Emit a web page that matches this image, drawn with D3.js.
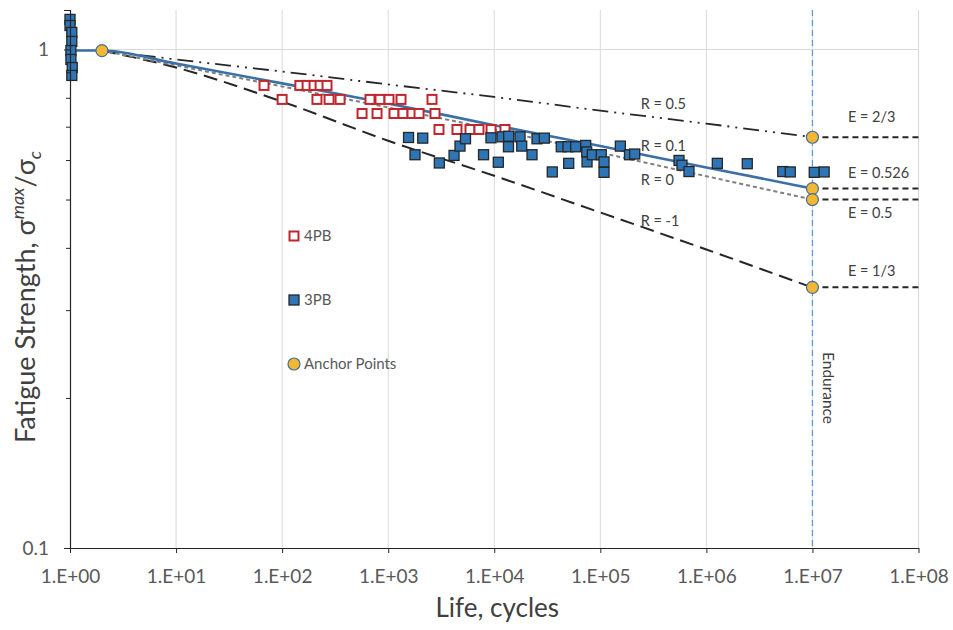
<!DOCTYPE html>
<html>
<head>
<meta charset="utf-8">
<script src="https://cdn.jsdelivr.net/npm/d3@7"></script>
<style>
  body { margin: 0; background: #fff; }
  text { font-family: Lato, "Open Sans", sans-serif; }
</style>
</head>
<body>
<script>
// axis ticks
const decades = [1, 1e1, 1e2, 1e3, 1e4, 1e5, 1e6, 1e7, 1e8]
const xTickLabels = ['1.E+00', '1.E+01', '1.E+02', '1.E+03', '1.E+04', '1.E+05', '1.E+06', '1.E+07', '1.E+08']
const yMajorTicks = [0.1, 1]
const yMajorLabels = ['0.1', '1']
const yMinorTicks = [0.2, 0.3, 0.4, 0.5, 0.6, 0.7, 0.8, 0.9]

// S-N curves (life, strength)
const curveLife = [2, 1e1, 1e2, 1e3, 1e4, 1e5, 1e6, 1e7]
const rHalf = [0.995, 0.955, 0.903, 0.851, 0.803, 0.754, 0.710, 0.667]
const rTenth = [0.995, 0.937, 0.855, 0.779, 0.705, 0.640, 0.580, 0.526]
const rZero = [0.995, 0.929, 0.843, 0.765, 0.691, 0.621, 0.557, 0.5]
const rMinusOne = [0.995, 0.920, 0.786, 0.656, 0.558, 0.471, 0.397, 0.333]

// endurance limits at 1e7 cycles
const enduranceLife = 1e7
const enduranceE = [2 / 3, 0.526, 0.5, 1 / 3]
const enduranceLabels = ['E = 2/3', 'E = 0.526', 'E = 0.5', 'E = 1/3']

// anchor points
const anchorLife = [2, 1e7, 1e7, 1e7, 1e7]
const anchorS = [0.995, 2 / 3, 0.526, 0.5, 1 / 3]

// 4PB test data
const life4PB = [67.5, 100, 147, 172, 200, 228, 265,
  213, 277, 352, 674, 837, 1018, 1321, 2590,
  567, 785, 1135, 1380, 1678, 1954, 2763,
  3013, 4453, 5906, 7181, 9330, 12620]
const s4PB = [0.847, 0.794, 0.847, 0.847, 0.847, 0.847, 0.847,
  0.794, 0.794, 0.794, 0.794, 0.794, 0.794, 0.794, 0.794,
  0.744, 0.744, 0.744, 0.744, 0.744, 0.744, 0.744,
  0.691, 0.691, 0.691, 0.691, 0.691, 0.691]

// 3PB test data
const life3PB = [1, 1, 1.04, 1.04, 1.02, 1.02, 1.05, 1.04,
  1556, 2117, 1790, 3034, 4178, 4754, 5357, 7925, 9311, 10920,
  11840, 13680, 13620, 17500, 18150, 22700, 25300, 29650, 35240, 42860,
  49550, 50350, 58620, 72830, 74450, 74970, 84140, 102100, 108400, 108400,
  154500, 188400, 211000, 552200, 589000, 685500, 1.268e6, 2.43e6, 5.25e6, 6.18e6,
  1.04e7, 1.29e7]
const s3PB = [1.149, 1.117, 1.082, 1.038, 0.995, 0.955, 0.920, 0.887,
  0.666, 0.664, 0.615, 0.592, 0.613, 0.640, 0.662, 0.615, 0.665, 0.594,
  0.668, 0.670, 0.638, 0.668, 0.640, 0.615, 0.662, 0.664, 0.568, 0.638,
  0.638, 0.591, 0.638, 0.642, 0.623, 0.595, 0.615, 0.615, 0.595, 0.567,
  0.640, 0.615, 0.617, 0.599, 0.586, 0.569, 0.591, 0.590, 0.569, 0.568,
  0.567, 0.568]

const plot = {left: 70, right: 918.5, top: 10, bottom: 548}

const svg = d3.select('body').append('svg')
  .attr('width', 953)
  .attr('height', 630)

const xScale = d3.scaleLog().domain([1, 1e8]).range([plot.left, plot.right])
const yScale = d3.scaleLog().domain([0.1, 1.2]).range([plot.bottom, plot.top])

// gridlines
svg.append('g').selectAll('line').data(decades.slice(1)).enter()
  .append('line')
    .attr('x1', d => xScale(d)).attr('x2', d => xScale(d))
    .attr('y1', plot.top).attr('y2', plot.bottom)
    .attr('stroke', '#d9d9d9').attr('stroke-width', 1)
svg.append('line')
  .attr('x1', plot.left).attr('x2', plot.right)
  .attr('y1', yScale(1)).attr('y2', yScale(1))
  .attr('stroke', '#d9d9d9').attr('stroke-width', 1)

// endurance line
svg.append('line')
  .attr('x1', xScale(enduranceLife)).attr('x2', xScale(enduranceLife))
  .attr('y1', plot.top).attr('y2', plot.bottom)
  .attr('stroke', '#5b9bd5').attr('stroke-width', 1.3)
  .attr('stroke-dasharray', '6,4')

// endurance limit dashes
svg.append('g').selectAll('line').data(enduranceE).enter()
  .append('line')
    .attr('x1', xScale(enduranceLife)).attr('x2', xScale(1e8))
    .attr('y1', d => yScale(d)).attr('y2', d => yScale(d))
    .attr('stroke', '#262626').attr('stroke-width', 2)
    .attr('stroke-dasharray', '6,4')

// S-N curves
const line = d3.line()
  .x(d => xScale(d[0]))
  .y(d => yScale(d[1]))
  .curve(d3.curveMonotoneX)

const curves = [
  {s: rMinusOne, color: '#262626', width: 2, dash: '14,7'},
  {s: rHalf, color: '#262626', width: 1.8, dash: '16,6,2,6,2,6'},
  {s: rZero, color: '#7f7f7f', width: 2, dash: '4,3'},
  {s: rTenth, color: '#3c6fa3', width: 2.6, dash: null, start: true}
]
curves.forEach(c => {
  let pts = curveLife.map((n, i) => [n, c.s[i]])
  if (c.start) pts = [[1, c.s[0]]].concat(pts)
  svg.append('path')
    .datum(pts)
    .attr('fill', 'none')
    .attr('stroke', c.color)
    .attr('stroke-width', c.width)
    .attr('stroke-dasharray', c.dash)
    .attr('d', line)
})

// 4PB squares
svg.append('g').selectAll('rect').data(life4PB).enter()
  .append('rect')
    .attr('x', d => xScale(d) - 4.5)
    .attr('y', (d, i) => yScale(s4PB[i]) - 4.5)
    .attr('width', 9).attr('height', 9)
    .attr('fill', '#fff').attr('stroke', '#c0262d').attr('stroke-width', 2)

// 3PB squares
svg.append('g').selectAll('rect').data(life3PB).enter()
  .append('rect')
    .attr('x', d => xScale(d) - 5)
    .attr('y', (d, i) => yScale(s3PB[i]) - 5)
    .attr('width', 10).attr('height', 10)
    .attr('fill', '#2e75b6').attr('stroke', '#262626').attr('stroke-width', 1.3)

// anchor points
svg.append('g').selectAll('circle').data(anchorLife).enter()
  .append('circle')
    .attr('cx', d => xScale(d))
    .attr('cy', (d, i) => yScale(anchorS[i]))
    .attr('r', 6)
    .attr('fill', '#f4b731').attr('stroke', '#41719c').attr('stroke-width', 1.2)

// axes
const xAxis = svg.append('g')
  .attr('transform', 'translate(0,' + plot.bottom + ')')
  .call(d3.axisBottom(xScale)
    .tickValues(decades)
    .tickFormat((d, i) => xTickLabels[i])
    .tickSize(5).tickSizeOuter(0).tickPadding(17))
xAxis.selectAll('text').style('font-size', '19px').attr('fill', '#595959')
xAxis.selectAll('line').attr('stroke', '#262626')
xAxis.select('.domain').attr('stroke', '#262626').attr('stroke-width', 1.2)

const yMinor = svg.append('g')
  .attr('transform', 'translate(' + plot.left + ',0)')
  .call(d3.axisLeft(yScale).tickValues(yMinorTicks).tickFormat('').tickSize(4).tickSizeOuter(0))
yMinor.select('.domain').remove()
yMinor.selectAll('line').attr('stroke', '#262626')

const yAxis = svg.append('g')
  .attr('transform', 'translate(' + plot.left + ',0)')
  .call(d3.axisLeft(yScale)
    .tickValues(yMajorTicks)
    .tickFormat((d, i) => yMajorLabels[i])
    .tickSize(6).tickSizeOuter(6).tickPadding(15))
yAxis.selectAll('text').style('font-size', '19px').attr('fill', '#595959')
yAxis.selectAll('line').attr('stroke', '#262626')
yAxis.select('.domain').attr('stroke', '#262626').attr('stroke-width', 1.2)

// axis titles
svg.append('text')
  .attr('x', (plot.left + plot.right) / 2 + 3)
  .attr('y', 617)
  .attr('text-anchor', 'middle')
  .style('font-size', '26px')
  .attr('fill', '#404040')
  .text('Life, cycles')

const yTitle = svg.append('text')
  .attr('transform', 'translate(35,' + 297 + ') rotate(-90)')
  .attr('text-anchor', 'middle')
  .style('font-size', '27px')
  .attr('fill', '#404040')
yTitle.append('tspan').text('Fatigue Strength,  σ')
yTitle.append('tspan').attr('dy', -11).style('font-size', '18px').style('font-style', 'italic').text('max')
yTitle.append('tspan').attr('dy', 11).text('/σ')
yTitle.append('tspan').attr('dy', 6).style('font-size', '18px').style('font-style', 'italic').text('c')

// curve labels
const rLabels = [
  {t: 'R = 0.5', s: 0.779},
  {t: 'R = 0.1', s: 0.641},
  {t: 'R = 0', s: 0.548},
  {t: 'R = -1', s: 0.453}
]
svg.append('g').selectAll('text').data(rLabels).enter()
  .append('text')
    .attr('x', xScale(2.4e5))
    .attr('y', d => yScale(d.s))
    .attr('dy', '0.35em')
    .style('font-size', '14.5px')
    .attr('fill', '#404040')
    .text(d => d.t)

const eLabelS = [0.734, 0.566, 0.470, 0.360]
svg.append('g').selectAll('text').data(enduranceLabels).enter()
  .append('text')
    .attr('x', xScale(2.16e7))
    .attr('y', (d, i) => yScale(eLabelS[i]))
    .attr('dy', '0.35em')
    .style('font-size', '14.5px')
    .attr('fill', '#404040')
    .text(d => d)

svg.append('text')
  .attr('transform', 'translate(' + (xScale(enduranceLife) + 11) + ',352) rotate(90)')
  .style('font-size', '15.5px')
  .attr('fill', '#404040')
  .text('Endurance')

// legend
const legend = svg.append('g').attr('transform', 'translate(294,0)')
legend.append('rect').attr('x', -4.5).attr('y', 236 - 4.5).attr('width', 9).attr('height', 9)
  .attr('fill', '#fff').attr('stroke', '#c0262d').attr('stroke-width', 2)
legend.append('rect').attr('x', -5).attr('y', 300 - 5).attr('width', 10).attr('height', 10)
  .attr('fill', '#2e75b6').attr('stroke', '#262626').attr('stroke-width', 1.3)
legend.append('circle').attr('cx', 0).attr('cy', 364).attr('r', 6)
  .attr('fill', '#f4b731').attr('stroke', '#41719c').attr('stroke-width', 1.2)
const legendText = ['4PB', '3PB', 'Anchor Points']
legend.selectAll('text.lg').data(legendText).enter()
  .append('text')
    .attr('class', 'lg')
    .attr('x', 10)
    .attr('y', (d, i) => 236 + i * 64)
    .attr('dy', '0.35em')
    .style('font-size', '15px')
    .attr('fill', '#595959')
    .text(d => d)
</script>
</body>
</html>
